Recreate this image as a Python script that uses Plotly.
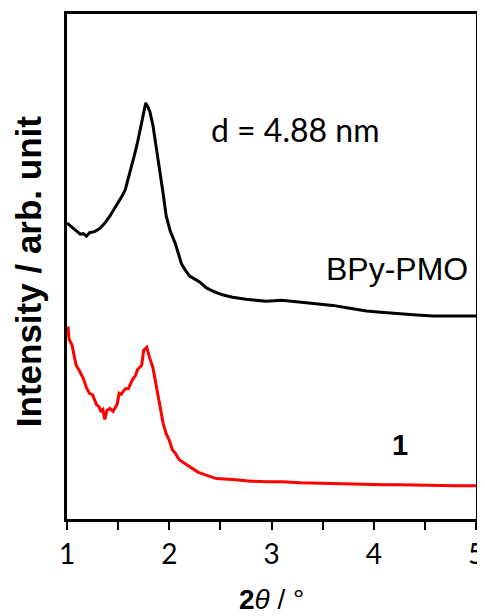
import plotly.graph_objects as go

# BPy-PMO (black) : 2theta, intensity (arb.)
bpy_x = [1.00, 1.05, 1.09, 1.13, 1.16, 1.19, 1.22, 1.27, 1.32, 1.37, 1.42, 1.46, 1.50, 1.54, 1.57, 1.60,
         1.63, 1.66, 1.69, 1.71, 1.73, 1.75, 1.77, 1.79, 1.81, 1.84, 1.86, 1.89, 1.91, 1.94, 1.97,
         2.01, 2.06, 2.10, 2.12, 2.16, 2.20, 2.25, 2.30, 2.36, 2.43, 2.52, 2.62, 2.75, 2.95, 3.10,
         3.28, 3.45, 3.60, 3.75, 3.93, 4.10, 4.26, 4.42, 4.58, 4.78, 5.00]
bpy_y = [58.6, 57.8, 57.2, 56.4, 56.5, 56.0, 56.7, 56.9, 57.5, 58.6, 60.0, 61.3, 62.6, 64.0, 65.2, 67.4,
         70.0, 72.1, 74.6, 76.5, 78.7, 80.0, 82.4, 81.6, 80.7, 78.0, 75.3, 72.0, 68.7, 64.5, 60.0,
         57.0, 54.5, 51.8, 50.5, 49.2, 48.1, 47.5, 46.9, 45.8, 45.1, 44.4, 43.9, 43.5, 43.1, 43.3,
         42.9, 42.6, 42.3, 41.8, 41.2, 40.9, 40.6, 40.4, 40.2, 40.2, 40.2]

# Compound 1 (red)
c1_x = [1.00, 1.01, 1.02, 1.05, 1.07, 1.09, 1.12, 1.16, 1.19, 1.22, 1.25, 1.27, 1.29, 1.31, 1.33,
        1.35, 1.37, 1.39, 1.42, 1.45, 1.49, 1.51, 1.53, 1.57, 1.60, 1.64, 1.67, 1.69, 1.71, 1.73,
        1.75, 1.78, 1.81, 1.84, 1.86, 1.89, 1.91, 1.94, 1.97, 2.00, 2.03, 2.06, 2.10, 2.15, 2.20,
        2.28, 2.36, 2.46, 2.62, 2.80, 2.95, 3.10, 3.28, 3.45, 3.60, 3.78, 3.93, 4.10, 4.26, 4.42,
        4.58, 4.80, 5.00]
c1_y = [36.4, 38.1, 35.6, 34.4, 32.3, 30.4, 29.4, 27.8, 26.0, 24.9, 24.6, 23.7, 22.6, 22.3, 21.4,
        21.7, 19.7, 21.5, 21.9, 21.3, 22.7, 24.9, 24.7, 25.8, 25.8, 27.6, 28.4, 29.6, 30.0, 30.4,
        33.4, 34.0, 31.8, 30.0, 27.8, 24.6, 21.7, 19.0, 16.9, 15.6, 13.7, 13.0, 11.7, 11.0, 10.3,
        9.3, 8.7, 8.0, 7.8, 7.5, 7.4, 7.4, 7.2, 7.1, 7.0, 6.9, 6.8, 6.8, 6.8, 6.7,
        6.6, 6.6, 6.6]

x_ticks = [1, 2, 3, 4, 5]

fig = go.Figure()
fig.add_trace(go.Scatter(x=bpy_x, y=bpy_y, mode="lines",
                         line=dict(color="black", width=3), showlegend=False))
fig.add_trace(go.Scatter(x=c1_x, y=c1_y, mode="lines",
                         line=dict(color="#ff0000", width=3), showlegend=False))

# page body has an 8px default margin, so the figure is sized to fill the rest of the window
fig.update_layout(
    width=477, height=608,
    margin=dict(l=59, r=9, t=6, b=97, autoexpand=False),
    paper_bgcolor="white", plot_bgcolor="white",
    xaxis=dict(range=[1, 5], tickvals=x_ticks, ticktext=[str(t) for t in x_ticks],
               automargin=False,
               showline=True, linecolor="black", linewidth=3, mirror=True,
               ticks="outside", ticklen=8, tickwidth=2, tickcolor="black",
               minor=dict(dtick=0.5, ticks="outside", ticklen=8, tickwidth=2, tickcolor="black"),
               showgrid=False, zeroline=False,
               tickfont=dict(family="Lato", size=28, color="black")),
    yaxis=dict(range=[0, 100], automargin=False,
               showline=True, linecolor="black", linewidth=3, mirror=True,
               showticklabels=False, ticks="", showgrid=False, zeroline=False),
    annotations=[
        dict(x=3.23, y=77.1, xref="x", yref="y", text="d = 4.88 nm", showarrow=False,
             font=dict(family="Lato", size=32, color="black")),
        dict(x=4.23, y=49.5, xref="x", yref="y", text="BPy-PMO", showarrow=False,
             font=dict(family="Liberation Sans", size=32, color="black")),
        dict(x=4.26, y=14.7, xref="x", yref="y", text="<b>1</b>", showarrow=False,
             font=dict(family="Liberation Sans", size=29, color="black")),
        dict(x=0.5, y=-0.195, xref="paper", yref="paper", yanchor="bottom",
             text="<b>2</b><i>θ</i> / °", showarrow=False,
             font=dict(family="Liberation Sans", size=28, color="black")),
        dict(x=-0.095, y=0.489, xref="paper", yref="paper", textangle=-90,
             xanchor="center", yanchor="middle",
             text="<b>Intensity / arb. unit</b>", showarrow=False,
             font=dict(family="Liberation Sans", size=35, color="black")),
    ],
)

fig.write_html("out.html")
